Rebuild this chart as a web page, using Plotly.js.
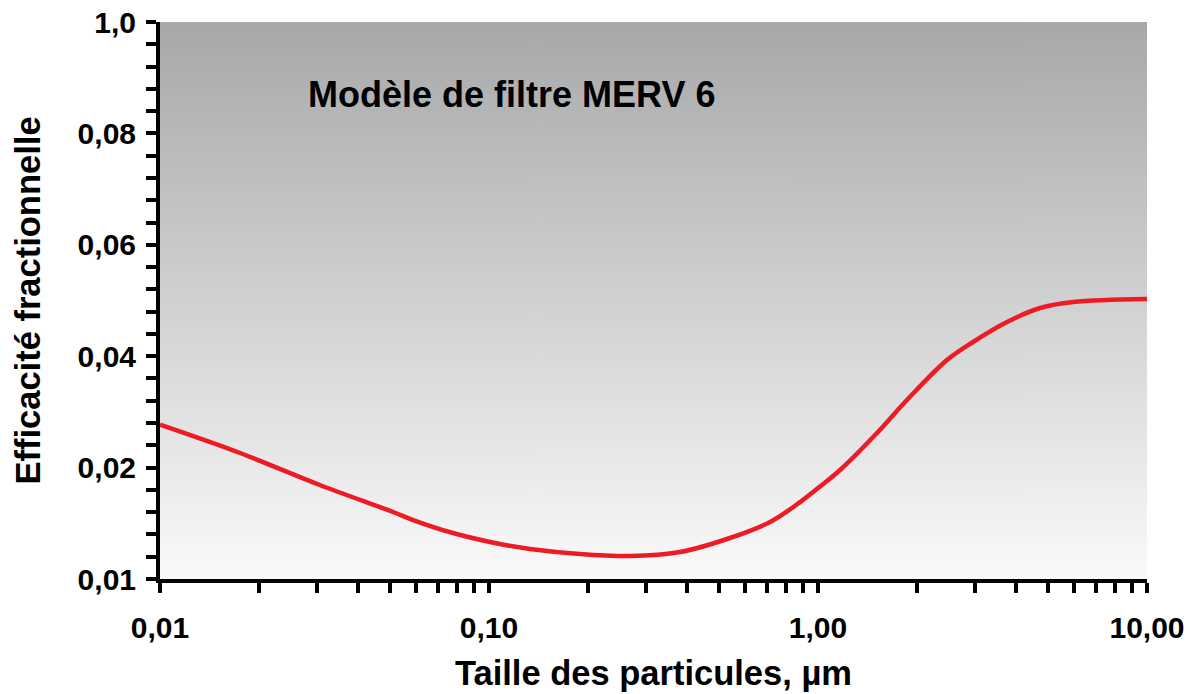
<!DOCTYPE html>
<html>
<head>
<meta charset="utf-8">
<script src="https://cdn.plot.ly/plotly-3.0.1.min.js"></script>
<style>
  html, body { margin: 0; padding: 0; background: #ffffff; }
  #chart { width: 1195px; height: 694px; }
</style>
</head>
<body>
<div id="chart"></div>
<script>
// ---- Data ----
const particleSize = [0.01, 0.0175, 0.0306, 0.0511, 0.0588, 0.0777, 0.108, 0.1333, 0.189, 0.268,
                      0.3807, 0.540, 0.7146, 0.882, 1.014, 1.167, 1.511, 1.864, 2.466, 2.959,
                      3.754, 4.73, 5.96, 10];
const efficiency = [0.277, 0.2262, 0.1688, 0.1203, 0.1059, 0.0826, 0.0628, 0.0539, 0.0449, 0.0413,
                    0.0485, 0.0736, 0.1023, 0.138, 0.1660, 0.1957, 0.2621, 0.3214, 0.3932, 0.4255,
                    0.4614, 0.4865, 0.4973, 0.5027];

const xTickValues = [0.01, 0.1, 1, 10];
const xTickLabels = ['0,01', '0,10', '1,00', '10,00'];
const yTickValues = [0, 0.2, 0.4, 0.6, 0.8, 1.0];
const yTickLabels = ['0,01', '0,02', '0,04', '0,06', '0,08', '1,0'];

const chartTitle = 'Modèle de filtre MERV 6';
const xTitle = 'Taille des particules, µm';
const yTitle = 'Efficacité fractionnelle';

// ---- Tick arrays (major + unlabeled minor ticks) ----
const xVals = [], xText = [];
for (let d = -2; d < 1; d++) {
  for (let m = 1; m <= 9; m++) {
    const v = parseFloat((m * Math.pow(10, d)).toPrecision(6));
    xVals.push(v);
    const idx = xTickValues.findIndex(t => Math.abs(t - v) < 1e-9);
    xText.push(idx >= 0 ? xTickLabels[idx] : '');
  }
}
xVals.push(10); xText.push(xTickLabels[3]);

const yVals = [], yText = [];
for (let i = 0; i <= 25; i++) {
  const v = Math.round(i * 4) / 100;
  yVals.push(v);
  const idx = yTickValues.findIndex(t => Math.abs(t - v) < 1e-9);
  yText.push(idx >= 0 ? yTickLabels[idx] : '');
}

// ---- Background gradient (plot area) ----
const cv = document.createElement('canvas');
cv.width = 4; cv.height = 512;
const ctx = cv.getContext('2d');
const g = ctx.createLinearGradient(0, 0, 0, 512);
g.addColorStop(0, '#a7a8aa');
g.addColorStop(1, '#fafafa');
ctx.fillStyle = g;
ctx.fillRect(0, 0, 4, 512);
const bgURL = cv.toDataURL('image/png');

const FONT = 'Liberation Sans, Arial, Helvetica, sans-serif';

const trace = {
  x: particleSize,
  y: efficiency,
  type: 'scatter',
  mode: 'lines',
  line: { color: '#ed1c24', width: 4.5, shape: 'spline', smoothing: 1.0 },
  hoverinfo: 'x+y',
  showlegend: false
};

const axisCommon = {
  showline: true, linecolor: '#000000', linewidth: 4,
  ticks: 'outside', ticklen: 10, tickwidth: 4, tickcolor: '#000000',
  showgrid: false, zeroline: false, mirror: false,
  tickmode: 'array',
  tickfont: { family: FONT, size: 30, color: '#000000', weight: 'bold' }
};

const layout = {
  width: 1195, height: 694,
  margin: { l: 160, r: 48, t: 22, b: 115 },
  paper_bgcolor: '#ffffff',
  plot_bgcolor: 'rgba(0,0,0,0)',
  title: {
    text: chartTitle,
    font: { family: FONT, size: 36, color: '#000000', weight: 'bold' },
    xref: 'paper', yref: 'paper', x: 0.15, xanchor: 'left', y: 0.870, yanchor: 'middle'
  },
  xaxis: Object.assign({}, axisCommon, {
    type: 'log', range: [-2, 1],
    tickvals: xVals, ticktext: xText,
    ticklabelstandoff: 9,
    title: { text: xTitle, standoff: 19,
             font: { family: FONT, size: 34.5, color: '#000000', weight: 'bold' } }
  }),
  yaxis: Object.assign({}, axisCommon, {
    range: [0, 1],
    tickvals: yVals, ticktext: yText,
    ticklabelstandoff: 4,
    title: { text: yTitle, standoff: 28,
             font: { family: FONT, size: 34.5, color: '#000000', weight: 'bold' } }
  }),
  images: [{
    source: bgURL, xref: 'paper', yref: 'paper', x: 0, y: 1, sizex: 1, sizey: 1,
    xanchor: 'left', yanchor: 'top', sizing: 'stretch', layer: 'below'
  }]
};

Plotly.newPlot('chart', [trace], layout, { displayModeBar: false, staticPlot: true });
</script>
</body>
</html>
